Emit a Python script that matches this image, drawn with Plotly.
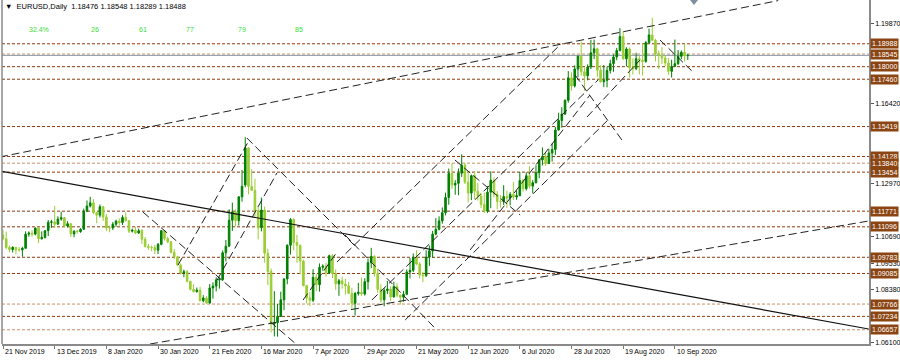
import plotly.graph_objects as go

# ---------------- data (EURUSD daily, bar index 0 = 21 Nov 2019) ----------------
opens = [
 1.1074,1.1058,1.1021,1.1012,1.1021,1.1010,1.1010,
 1.1017,1.1078,1.1082,1.1078,1.1104,1.1058,1.1064,1.1093,1.1129,1.1131,1.1121,1.1143,1.1149,1.1113,1.1123,1.1079,1.1091,1.1089,1.1099,1.1177,1.1199,
 1.1213,1.1171,1.1160,1.1196,1.1152,1.1105,1.1105,1.1121,1.1134,1.1128,1.1150,1.1136,1.1091,1.1095,1.1083,1.1093,1.1056,1.1025,1.1021,1.1020,1.1009,1.1034,
 1.1093,1.1059,1.1045,1.1000,1.0980,1.0945,1.0910,1.0916,1.0875,1.0840,1.0830,1.0837,1.0791,1.0803,1.0781,1.0846,1.0854,1.0881,1.0882,1.0998,
 1.1026,1.1138,1.1174,1.1136,1.1239,1.1290,1.1450,1.1284,1.1267,1.1177,1.1106,1.1182,1.0996,1.0917,1.0691,1.0696,1.0723,1.0795,1.0885,1.1030,1.1141,1.1042,
 1.1030,1.0962,1.0856,1.0803,1.0793,1.0892,1.0860,1.0935,1.0940,1.0911,1.0985,1.0908,1.0864,1.0877,1.0863,1.0855,1.0823,1.0780,1.0822,1.0827,1.0820,1.0873,
 1.0955,1.0982,1.0909,1.0840,1.0795,1.0835,1.0841,1.0807,1.0852,1.0815,1.0806,1.0819,1.0915,1.0922,1.0977,1.0949,1.0902,1.0899,1.0979,1.1006,1.1078,
 1.1099,1.1135,1.1170,1.1236,1.1339,1.1290,1.1297,1.1341,1.1375,1.1302,1.1255,1.1330,1.1263,1.1243,1.1206,1.1177,1.1259,1.1310,1.1250,1.1219,1.1219,1.1240,
 1.1234,1.1250,1.1238,1.1244,1.1309,1.1274,1.1330,1.1285,1.1300,1.1343,1.1398,1.1413,1.1383,1.1428,1.1443,1.1527,1.1568,1.1596,1.1655,1.1752,1.1717,1.1790,1.1845,
 1.1778,1.1761,1.1799,1.1860,1.1877,1.1785,1.1735,1.1741,1.1784,1.1813,1.1842,1.1870,1.1930,1.1834,1.1876,1.1795,1.1792,1.1834,1.1828,1.1822,1.1904,
 1.1937,1.1914,1.1855,1.1850,1.1837,1.1816,1.1780,1.1801,1.1813,1.1845,1.1862,1.18476]
highs = [
 1.1097,1.1089,1.1029,1.1026,1.1023,1.1022,1.1024,
 1.1090,1.1090,1.1096,1.1107,1.1109,1.1090,1.1091,1.1139,1.1140,1.1200,1.1155,1.1175,1.1152,1.1134,1.1124,1.1094,1.1096,1.1104,1.1188,1.1223,1.1239,
 1.1229,1.1173,1.1206,1.1198,1.1165,1.1114,1.1130,1.1140,1.1146,1.1160,1.1172,1.1139,1.1102,1.1110,1.1102,1.1100,1.1066,1.1036,1.1029,1.1031,1.1040,1.1096,
 1.1095,1.1067,1.1048,1.1014,1.0985,1.0952,1.0925,1.0924,1.0876,1.0862,1.0848,1.0851,1.0815,1.0811,1.0863,1.0870,1.0892,1.0891,1.1008,1.1053,
 1.1185,1.1214,1.1185,1.1240,1.1355,1.1496,1.1452,1.1358,1.1317,1.1200,1.1236,1.1197,1.1015,1.0930,1.0832,1.0777,1.0830,1.0887,1.1034,1.1147,1.1147,1.1075,
 1.1033,1.0968,1.0860,1.0830,1.0927,1.0906,1.0952,1.0948,1.0955,1.0990,1.0992,1.0926,1.0885,1.0895,1.0886,1.0872,1.0847,1.0829,1.0868,1.0891,1.0888,1.0973,
 1.1019,1.0987,1.0930,1.0862,1.0845,1.0876,1.0853,1.0873,1.0866,1.0816,1.0833,1.0926,1.0975,1.0995,1.1009,1.0957,1.0915,1.1009,1.1029,1.1092,1.1147,
 1.1155,1.1193,1.1257,1.1361,1.1384,1.1311,1.1361,1.1422,1.1385,1.1346,1.1335,1.1350,1.1299,1.1256,1.1257,1.1285,1.1349,1.1323,1.1263,1.1247,1.1289,1.1265,
 1.1259,1.1303,1.1267,1.1346,1.1316,1.1345,1.1371,1.1311,1.1375,1.1402,1.1452,1.1430,1.1445,1.1469,1.1540,1.1601,1.1625,1.1659,1.1781,1.1776,1.1806,1.1848,1.1908,
 1.1796,1.1810,1.1916,1.1917,1.1882,1.1806,1.1807,1.1800,1.1830,1.1853,1.1881,1.1966,1.1951,1.1884,1.1883,1.1836,1.1860,1.1847,1.1901,1.1911,1.1964,
 1.2011,1.1920,1.1870,1.1884,1.1847,1.1837,1.1830,1.1917,1.1872,1.1870,1.1900,1.18548]
lows = [
 1.1052,1.1014,1.0999,1.0999,1.0991,1.1003,1.0981,
 1.1016,1.1067,1.1067,1.1073,1.1040,1.1055,1.1059,1.1070,1.1105,1.1105,1.1119,1.1136,1.1108,1.1107,1.1066,1.1065,1.1080,1.1084,1.1097,1.1174,1.1193,
 1.1164,1.1125,1.1150,1.1135,1.1091,1.1086,1.1096,1.1110,1.1115,1.1118,1.1132,1.1083,1.1085,1.1078,1.1079,1.1036,1.1020,1.1010,1.1004,1.0992,1.0992,1.1030,
 1.1050,1.1039,1.0995,1.0971,1.0941,1.0904,1.0892,1.0870,1.0835,1.0827,1.0826,1.0787,1.0784,1.0778,1.0779,1.0800,1.0831,1.0843,1.0876,1.0960,
 1.1025,1.1092,1.1111,1.1115,1.1218,1.1280,1.1250,1.1271,1.1154,1.1055,1.1090,1.0955,1.0858,1.0654,1.0637,1.0636,1.0722,1.0750,1.0862,1.0990,1.1009,1.0955,
 1.0905,1.0853,1.0779,1.0768,1.0785,1.0832,1.0830,1.0921,1.0895,1.0906,1.0889,1.0838,1.0812,1.0843,1.0817,1.0821,1.0757,1.0727,1.0813,1.0812,1.0813,1.0839,
 1.0931,1.0895,1.0825,1.0782,1.0767,1.0820,1.0790,1.0806,1.0806,1.0774,1.0787,1.0815,1.0887,1.0915,1.0944,1.0886,1.0871,1.0893,1.0941,1.0977,1.1073,
 1.1094,1.1123,1.1159,1.1205,1.1272,1.1248,1.1246,1.1325,1.1294,1.1214,1.1225,1.1228,1.1223,1.1190,1.1169,1.1170,1.1190,1.1236,1.1185,1.1192,1.1204,1.1191,
 1.1202,1.1225,1.1226,1.1242,1.1261,1.1266,1.1275,1.1253,1.1297,1.1319,1.1374,1.1372,1.1380,1.1391,1.1419,1.1525,1.1537,1.1592,1.1645,1.1697,1.1710,1.1754,1.1762,
 1.1696,1.1741,1.1790,1.1833,1.1755,1.1731,1.1712,1.1711,1.1770,1.1778,1.1828,1.1866,1.1830,1.1801,1.1753,1.1766,1.1785,1.1767,1.1762,1.1818,1.1900,
 1.1910,1.1823,1.1789,1.1812,1.1803,1.1765,1.1753,1.1800,1.1807,1.1832,1.1822,1.18289]
closes = [
 1.1058,1.1020,1.1012,1.1021,1.1010,1.1010,1.1017,
 1.1078,1.1082,1.1078,1.1104,1.1058,1.1064,1.1093,1.1129,1.1131,1.1121,1.1143,1.1149,1.1113,1.1123,1.1079,1.1091,1.1089,1.1099,1.1177,1.1199,1.1213,
 1.1171,1.1160,1.1196,1.1152,1.1105,1.1105,1.1121,1.1134,1.1128,1.1150,1.1136,1.1091,1.1095,1.1083,1.1093,1.1056,1.1025,1.1021,1.1020,1.1009,1.1034,1.1093,
 1.1059,1.1045,1.1000,1.0980,1.0945,1.0910,1.0916,1.0875,1.0840,1.0830,1.0837,1.0791,1.0803,1.0781,1.0846,1.0854,1.0881,1.0882,1.0998,1.1026,
 1.1138,1.1174,1.1136,1.1239,1.1284,1.1450,1.1284,1.1267,1.1177,1.1106,1.1182,1.0996,1.0917,1.0691,1.0696,1.0723,1.0795,1.0885,1.1030,1.1141,1.1042,1.1030,
 1.0962,1.0856,1.0803,1.0793,1.0892,1.0860,1.0935,1.0940,1.0911,1.0985,1.0908,1.0864,1.0877,1.0863,1.0855,1.0823,1.0780,1.0822,1.0827,1.0820,1.0873,1.0955,
 1.0982,1.0909,1.0840,1.0795,1.0835,1.0841,1.0807,1.0852,1.0815,1.0806,1.0819,1.0915,1.0922,1.0977,1.0949,1.0902,1.0899,1.0979,1.1006,1.1078,1.1099,
 1.1135,1.1170,1.1236,1.1339,1.1290,1.1297,1.1341,1.1375,1.1302,1.1255,1.1330,1.1263,1.1243,1.1206,1.1177,1.1259,1.1310,1.1250,1.1219,1.1219,1.1240,1.1234,
 1.1250,1.1238,1.1244,1.1309,1.1274,1.1330,1.1285,1.1300,1.1343,1.1398,1.1413,1.1383,1.1428,1.1443,1.1527,1.1568,1.1596,1.1655,1.1752,1.1717,1.1790,1.1845,1.1778,
 1.1761,1.1799,1.1860,1.1877,1.1785,1.1735,1.1741,1.1784,1.1813,1.1842,1.1870,1.1930,1.1834,1.1876,1.1795,1.1792,1.1834,1.1828,1.1822,1.1904,1.1937,
 1.1914,1.1855,1.1850,1.1837,1.1816,1.1780,1.1801,1.1813,1.1845,1.1862,1.1846,1.18488]

date_labels = ["21 Nov 2019", "13 Dec 2019", "8 Jan 2020", "30 Jan 2020", "21 Feb 2020",
               "16 Mar 2020", "7 Apr 2020", "29 Apr 2020", "21 May 2020", "12 Jun 2020",
               "6 Jul 2020", "28 Jul 2020", "19 Aug 2020", "10 Sep 2020"]
date_label_bars = [0, 16, 32, 48, 64, 80, 96, 112, 128, 144, 160, 176, 192, 208]

price_ticks = [1.19870, 1.16420, 1.12970, 1.10690, 1.09530, 1.08380, 1.06100]

levels_dark = [1.18988, 1.18000, 1.17460, 1.15419, 1.14128, 1.13454, 1.11771, 1.11096,
               1.09783, 1.09085, 1.07234]
levels_light = [1.18545, 1.13840, 1.07766, 1.06657]
bid_price = 1.18488

header = "▼  EURUSD,Daily  1.18476 1.18548 1.18289 1.18488"
indicator_texts = ["32.4%", "26", "61", "77", "79", "85"]

# trend lines: (bar0, price0, bar1, price1)
solid_lines = [(-1.0, 1.13502, 268.0, 1.06690)]
dashed_lines = [
    (-1.0, 1.14106, 240.0, 1.20850),   # long upper channel line
    (45.5, 1.06044, 268.0, 1.11347),   # long lower rising line
    (43.3, 1.11735, 90.7, 1.06044),
    (75.5, 1.14925, 109.6, 1.10183),
    (54.2, 1.09450, 75.9, 1.14753),
    (66.3, 1.08803, 84.8, 1.13416),
    (177.1, 1.17641, 191.6, 1.14839),
    (203.4, 1.19150, 213.6, 1.17770),
    (180.8, 1.15830, 197.2, 1.18288),
    (103.4, 1.09579, 172.4, 1.18934),
    (114.2, 1.07941, 184.2, 1.17426),
    (124.5, 1.07078, 187.9, 1.15787),
    (105.9, 1.10743, 133.7, 1.06733),
    (92.9, 1.07941, 103.4, 1.10010),
    (139.9, 1.13977, 160.1, 1.11605),
    (144.6, 1.10096, 181.7, 1.16779),
]

# ---------------- figure ----------------
W, H = 900, 360
ML, MR, MT, MB = 2, 31, 0, 16
PW, PH = W - ML - MR, H - MT - MB

def px(xp):
    return (xp - ML) / PW

def py(yp):
    return 1 - yp / PH

fig = go.Figure()

for lv in levels_dark:
    fig.add_shape(type="line", xref="paper", x0=0, x1=1, yref="y", y0=lv, y1=lv,
                  line=dict(color="#8B3A0E", width=1, dash="3px,2px"), layer="below")
for lv in levels_light:
    fig.add_shape(type="line", xref="paper", x0=0, x1=1, yref="y", y0=lv, y1=lv,
                  line=dict(color="#C8906A", width=1, dash="3px,2px"), layer="below")
fig.add_shape(type="line", xref="paper", x0=0, x1=1, yref="y", y0=bid_price, y1=bid_price,
              line=dict(color="#8796A8", width=1), layer="below")

for (a, pa, b, pb) in solid_lines:
    fig.add_trace(go.Scatter(x=[a, b], y=[pa, pb], mode="lines",
                             line=dict(color="#111111", width=1.2),
                             hoverinfo="skip", showlegend=False))
for (a, pa, b, pb) in dashed_lines:
    fig.add_trace(go.Scatter(x=[a, b], y=[pa, pb], mode="lines",
                             line=dict(color="#222222", width=1, dash="8px,4px"),
                             hoverinfo="skip", showlegend=False))

fig.add_trace(go.Candlestick(
    x=list(range(len(opens))), open=opens, high=highs, low=lows, close=closes,
    increasing=dict(line=dict(color="#008000", width=1), fillcolor="#008000"),
    decreasing=dict(line=dict(color="#9ACD32", width=1), fillcolor="#9ACD32"),
    whiskerwidth=0, hoverinfo="skip", showlegend=False))

annotations = []
annotations.append(dict(xref="paper", yref="paper", x=px(3), y=py(6), text=header,
                        showarrow=False, xanchor="left", yanchor="middle",
                        font=dict(family="Liberation Sans, Arial", size=7.5, color="#000000")))
ind_x = [27, 89, 137, 184, 236, 293]
for t, xx in zip(indicator_texts, ind_x):
    annotations.append(dict(xref="paper", yref="paper", x=px(xx), y=py(29), text=t,
                            showarrow=False, xanchor="left", yanchor="middle",
                            font=dict(family="Liberation Sans, Arial", size=7, color="#36E036")))
for lbl, b in zip(date_labels, date_label_bars):
    annotations.append(dict(xref="x", yref="paper", x=b, y=0, text=lbl, showarrow=False,
                            xanchor="left", yanchor="top", yshift=-2, xshift=0,
                            font=dict(family="Liberation Sans, Arial", size=7, color="#000000")))
for lv in sorted(levels_dark + levels_light, reverse=True):
    annotations.append(dict(xref="paper", yref="y", x=1, y=lv, text=f"{lv:.5f}",
                            showarrow=False, xanchor="left", yanchor="middle", xshift=1,
                            bgcolor="#8B4513", borderpad=1,
                            font=dict(family="Liberation Sans, Arial", size=7, color="#FFFFFF")))

fig.add_shape(type="line", xref="paper", yref="paper", x0=0, x1=0, y0=0, y1=1,
              line=dict(color="#8a8a8a", width=1.5))
fig.add_shape(type="path", xref="paper", yref="paper",
              path=f"M {px(690)} {py(0)} L {px(698)} {py(0)} L {px(694)} {py(5)} Z",
              fillcolor="#7f8ea0", line=dict(width=0))

fig.update_layout(
    width=W, height=H, margin=dict(l=ML, r=MR, t=MT, b=MB),
    paper_bgcolor="#FFFFFF", plot_bgcolor="#FFFFFF",
    annotations=annotations,
    xaxis=dict(range=[-0.31, 268.1], showgrid=False, zeroline=False,
               rangeslider=dict(visible=False), tickvals=date_label_bars,
               showticklabels=False, ticks="outside", ticklen=3, tickcolor="#777777",
               showline=True, linecolor="#8a8a8a", linewidth=1.5),
    yaxis=dict(range=[1.06044, 1.20875], side="right", showgrid=False, zeroline=False,
               tickvals=price_ticks, ticktext=[f"{v:.5f}" for v in price_ticks],
               ticks="outside", ticklen=3, tickcolor="#555555",
               tickfont=dict(family="Liberation Sans, Arial", size=7, color="#000000"),
               showline=True, linecolor="#8a8a8a", linewidth=1.5),
)

fig.write_html("out.html")
